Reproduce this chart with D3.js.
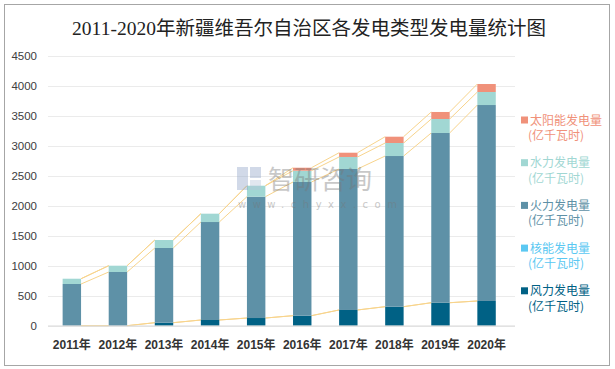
<!DOCTYPE html>
<html><head><meta charset="utf-8">
<script src="https://cdn.jsdelivr.net/npm/d3@7"></script>
<style>body{margin:0;background:#fff}svg{display:block}</style>
</head><body><svg id="c" width="615" height="369"></svg>
<script>
const years = ["2011年","2012年","2013年","2014年","2015年","2016年","2017年","2018年","2019年","2020年"];
const wind    = [0, 0, 50, 95, 128, 167, 262, 317, 383, 412];
const nuclear = [0, 0, 0, 0, 0, 0, 0, 0, 0, 0];
const fire    = [695, 895, 1245, 1633, 2022, 2228, 2350, 2511, 2829, 3266];
const water   = [88, 105, 133, 139, 183, 188, 200, 217, 233, 217];
const solar   = [0, 0, 0, 0, 0, 50, 71, 105, 117, 133];
const yTicks  = [0, 500, 1000, 1500, 2000, 2500, 3000, 3500, 4000, 4500];
const seriesNames = ["风力发电量","核能发电量","火力发电量","水力发电量","太阳能发电量"];
const colors = ["#006185","#5BC8F2","#5E91A7","#A1D7D3","#F0917A"];

const svg = d3.select("#c");
svg.append("rect").attr("x",4.5).attr("y",4.5).attr("width",605).attr("height",361)
  .attr("fill","#fff").attr("stroke","#a6a6a6").attr("stroke-width",1);

svg.append("text").attr("x",309).attr("y",35).attr("text-anchor","middle")
  .attr("font-family","'Liberation Serif','DejaVu Serif','Noto Sans CJK SC',serif")
  .attr("font-size",19.5).attr("fill","#222").text("2011-2020年新疆维吾尔自治区各发电类型发电量统计图");

const x = d3.scaleBand().domain(years).range([48.8,509.6]).paddingInner(0.6).paddingOuter(0.3);
const y = d3.scaleLinear().domain([0,4500]).range([325.7,55.7]);

// gridlines
svg.append("g").selectAll("line").data(yTicks.slice(1)).join("line")
  .attr("x1",48).attr("x2",515).attr("y1",d=>Math.round(y(d))+0.5).attr("y2",d=>Math.round(y(d))+0.5)
  .attr("stroke","#ebebeb").attr("stroke-width",1);
// y labels
svg.append("g").selectAll("text").data(yTicks).join("text")
  .attr("x",37).attr("y",d=>y(d)+4).attr("text-anchor","end")
  .attr("font-family","'Liberation Sans',Arial,sans-serif").attr("font-size",11.5).attr("fill","#404040")
  .text(d=>d);

const dataArr = [wind,nuclear,fire,water,solar];
const table = years.map((yr,i)=>{const o={year:yr}; seriesNames.forEach((s,k)=>o[s]=dataArr[k][i]); return o;});
const stack = d3.stack().keys(seriesNames)(table);

// series lines
const bw = x.bandwidth();
stack.forEach((layer)=>{
  const segs = [];
  for(let i=0;i<years.length-1;i++){
    segs.push([x(years[i])+bw, y(layer[i][1]), x(years[i+1]), y(layer[i+1][1])]);
  }
  svg.append("g").selectAll("line").data(segs).join("line")
    .attr("x1",d=>d[0]).attr("y1",d=>d[1]).attr("x2",d=>d[2]).attr("y2",d=>d[3])
    .attr("stroke","#F8D48C").attr("stroke-width",1);
});

// bars
stack.forEach((layer,k)=>{
  svg.append("g").attr("fill",colors[k]).selectAll("rect").data(layer).join("rect")
    .attr("x",d=>x(d.data.year)).attr("width",bw)
    .attr("y",d=>y(d[1])).attr("height",d=>Math.max(0,y(d[0])-y(d[1])));
});

// baseline
svg.append("line").attr("x1",48).attr("x2",515).attr("y1",326.2).attr("y2",326.2)
  .attr("stroke","#d9d9d9").attr("stroke-width",1.2);

// x labels
svg.append("g").selectAll("text").data(years).join("text")
  .attr("x",d=>x(d)+bw/2).attr("y",349).attr("text-anchor","middle")
  .attr("font-family","'Liberation Sans','Noto Sans CJK SC',sans-serif").attr("font-weight","bold")
  .attr("font-size",12).attr("fill","#333").text(d=>d);

// legend (reversed order)
const legOrder = [4,3,2,1,0];
const lg = svg.append("g");
legOrder.forEach((k,j)=>{
  const cy = 120 + j*42.7;
  lg.append("rect").attr("x",521).attr("y",cy-3.5).attr("width",7).attr("height",7).attr("fill",colors[k]);
  lg.append("text").attr("x",530).attr("y",cy+4.5).attr("font-family","'Noto Sans CJK SC',sans-serif")
    .attr("font-size",12).attr("fill",colors[k]).text(seriesNames[k]);
  lg.append("text").attr("x",528).attr("y",cy+20).attr("font-family","'Noto Sans CJK SC',sans-serif")
    .attr("font-size",12).attr("fill",colors[k]).text("(亿千瓦时)");
});

// watermark
const wm = svg.append("g").attr("opacity",0.4);
wm.append("rect").attr("x",237).attr("y",167).attr("width",11).attr("height",23).attr("fill","#8fa3c7");
wm.append("rect").attr("x",250).attr("y",167).attr("width",11).attr("height",11).attr("fill","#8fa3c7");
wm.append("rect").attr("x",250).attr("y",180).attr("width",11).attr("height",10).attr("fill","#b9c4dc");
wm.append("text").attr("x",268).attr("y",189).attr("font-family","'Noto Sans CJK SC',sans-serif")
  .attr("font-size",26).attr("fill","#777").text("智研咨询");
wm.append("text").attr("x",238).attr("y",208).attr("font-family","'DejaVu Sans',sans-serif")
  .attr("font-size",10).attr("letter-spacing",6.5).attr("fill","#777").text("www.chyxx.com");
</script></body></html>
